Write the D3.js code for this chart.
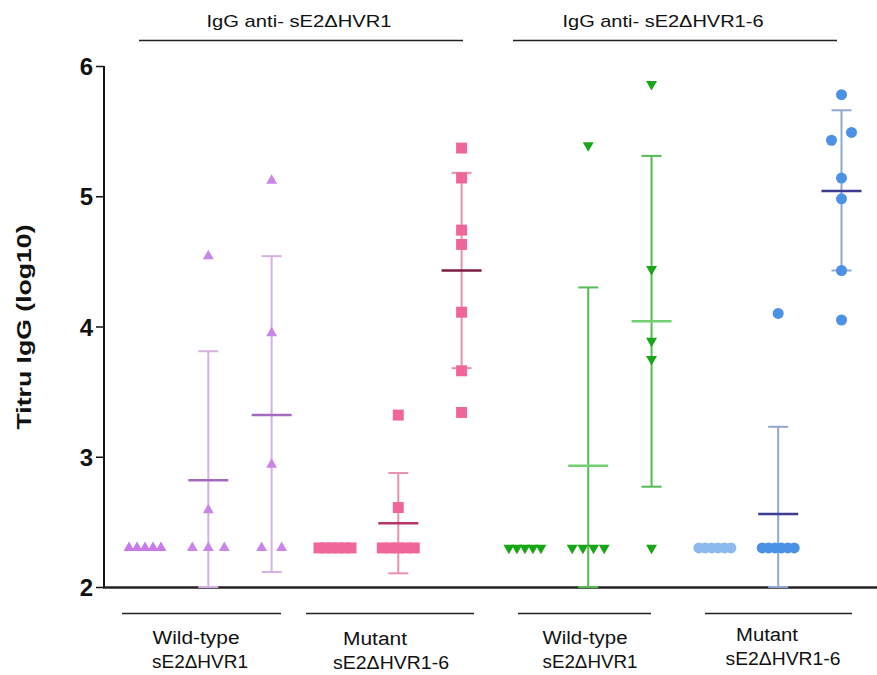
<!DOCTYPE html>
<html>
<head>
<meta charset="utf-8">
<script src="https://cdn.jsdelivr.net/npm/d3@7"></script>
<style>
  body { margin: 0; background: #fff; }
  text { font-family: "Liberation Sans", Arial, sans-serif; fill: #111; }
</style>
</head>
<body>
<svg id="chart" width="877" height="675"></svg>
<script>
// one entry per plotted column
const columns = ['wt1-a', 'wt1-b', 'wt1-c', 'mut1-a', 'mut1-b', 'mut1-c',
                 'wt16-a', 'wt16-b', 'wt16-c', 'mut16-a', 'mut16-b', 'mut16-c'];

// IgG anti-sE2dHVR1 titres
const antiHvr1Wt  = [[2.3, 2.3, 2.3, 2.3, 2.3], [2.3, 2.3, 2.3, 2.59, 4.54], [2.3, 2.3, 2.94, 3.95, 5.12]];
const antiHvr1Mut = [[2.3, 2.3, 2.3, 2.3, 2.3, 2.3], [2.3, 2.3, 2.3, 2.3, 2.3, 2.61, 3.32], [3.34, 3.66, 4.11, 4.63, 4.74, 5.14, 5.37]];
// IgG anti-sE2dHVR1-6 titres
const antiHvr16Wt  = [[2.3, 2.3, 2.3, 2.3, 2.3], [2.3, 2.3, 2.3, 2.3, 5.39], [2.3, 3.75, 3.89, 4.44, 5.86]];
const antiHvr16Mut = [[2.3, 2.3, 2.3, 2.3, 2.3, 2.3], [2.3, 2.3, 2.3, 2.3, 2.3, 2.3, 4.10], [4.05, 4.43, 4.98, 5.14, 5.43, 5.49, 5.78]];

// mean and SD ends
const means  = [null, 2.82, 3.32,  null, 2.49, 4.43,  null, 2.93, 4.04,  null, 2.56, 5.04];
const sdHigh = [null, 3.81, 4.54,  null, 2.875, 5.18, null, 4.30, 5.31,  null, 3.23, 5.66];
const sdLow  = [null, 1.83, 2.115, null, 2.105, 3.68, null, 1.56, 2.77,  null, 1.89, 4.43];

const yTicks = [2, 3, 4, 5, 6];
const headerLabels = ['IgG anti- sE2\u0394HVR1', 'IgG anti- sE2\u0394HVR1-6'];
const groupLabels = [['Wild-type', 'sE2\u0394HVR1'], ['Mutant', 'sE2\u0394HVR1-6'],
                     ['Wild-type', 'sE2\u0394HVR1'], ['Mutant', 'sE2\u0394HVR1-6']];

const allValues = [].concat(antiHvr1Wt, antiHvr1Mut, antiHvr16Wt, antiHvr16Mut);

// styles per group of three columns
const styles = [
  { symbol: d3.symbolTriangle, rotate: 0,   size: 52,  fill: ['#c77ae8', '#c985e8', '#c985e8'], bar: '#d4b0e4', mean: '#a46ac0' },
  { symbol: d3.symbolSquare,   rotate: 0,   size: 120, fill: ['#f0669a', '#f0669a', '#f0669a'], bar: '#ea90ae', mean: ['#b8336a', '#b8336a', '#7c1a44'] },
  { symbol: d3.symbolTriangle, rotate: 180, size: 52,  fill: ['#17a617', '#17a617', '#17a617'], bar: '#55bb55', mean: '#72d072' },
  { symbol: d3.symbolCircle,   rotate: 0,   size: 95,  fill: ['#8bb9f0', '#4b91e6', '#4b91e6'], bar: '#90a8d0', mean: '#3c3c90' }
];

const svg = d3.select('#chart');

const x = d3.scalePoint().domain(columns).range([145, 841.5]);
const y = d3.scaleLinear().domain([2, 6]).range([587, 66]);

// spread points that sit on top of each other
function spread(vals) {
  const sorted = vals.slice().sort((a, b) => a - b);
  const out = [];
  let i = 0;
  while (i < sorted.length) {
    let j = i;
    while (j + 1 < sorted.length && sorted[j + 1] - sorted[j] < 0.08) j++;
    const n = j - i + 1;
    const span = n === 1 ? 0 : (n === 2 ? 20 : 32);
    for (let k = 0; k < n; k++) {
      out.push({ v: sorted[i + k], dx: n === 1 ? 0 : -span / 2 + k * span / (n - 1) });
    }
    i = j + 1;
  }
  return out;
}

// y axis
const yAxis = svg.append('g')
  .attr('transform', 'translate(104,0)')
  .call(d3.axisLeft(y).tickValues(yTicks).tickSize(8).tickPadding(3).tickFormat(d3.format('d')));
yAxis.select('.domain').attr('stroke', '#111').attr('stroke-width', 2).attr('d', 'M0,66V587');
yAxis.selectAll('.tick line').attr('stroke', '#111').attr('stroke-width', 1.5);
yAxis.selectAll('.tick text')
  .style('font-size', '24px').style('font-weight', 'bold').attr('fill', '#111').attr('dy', '0.36em');

// x axis line
svg.append('line')
  .attr('x1', 103).attr('x2', 877).attr('y1', 587.5).attr('y2', 587.5)
  .attr('stroke', '#222').attr('stroke-width', 2.5);

svg.append('text')
  .attr('transform', 'translate(31,327) rotate(-90)')
  .attr('text-anchor', 'middle')
  .attr('textLength', 205).attr('lengthAdjust', 'spacingAndGlyphs')
  .style('font-size', '21px').style('font-weight', 'bold')
  .text('Titru IgG (log10)');

// columns
const plot = svg.append('g');
columns.forEach((c, i) => {
  const st = styles[Math.floor(i / 3)];
  const k = i % 3;
  const cx = x(c);
  const g = plot.append('g');

  if (means[i] !== null) {
    const hi = y(Math.max(2, sdHigh[i]));
    const lo = y(Math.max(2, sdLow[i]));
    g.append('line').attr('x1', cx).attr('x2', cx).attr('y1', hi).attr('y2', lo)
      .attr('stroke', st.bar).attr('stroke-width', 2);
    [hi, lo].forEach(yy => {
      g.append('line').attr('x1', cx - 10).attr('x2', cx + 10).attr('y1', yy).attr('y2', yy)
        .attr('stroke', st.bar).attr('stroke-width', 2);
    });
  }

  const sym = d3.symbol().type(st.symbol).size(st.size);
  g.selectAll('path.pt')
    .data(spread(allValues[i]))
    .join('path')
    .attr('class', 'pt')
    .attr('d', sym)
    .attr('transform', d => `translate(${cx + d.dx},${y(d.v)}) rotate(${st.rotate})`)
    .attr('fill', st.fill[k]);

  if (means[i] !== null) {
    g.append('line').attr('x1', cx - 20).attr('x2', cx + 20)
      .attr('y1', y(means[i])).attr('y2', y(means[i]))
      .attr('stroke', Array.isArray(st.mean) ? st.mean[k] : st.mean)
      .attr('stroke-width', 2.5);
  }
});

// top headers
const headers = [
  { x1: 139, x2: 463, cx: 299, w: 185 },
  { x1: 513, x2: 837, cx: 663, w: 201 }
];
headers.forEach((h, i) => {
  svg.append('line').attr('x1', h.x1).attr('x2', h.x2).attr('y1', 40.5).attr('y2', 40.5)
    .attr('stroke', '#222').attr('stroke-width', 1.5);
  svg.append('text').attr('x', h.cx).attr('y', 27).attr('text-anchor', 'middle')
    .attr('textLength', h.w).attr('lengthAdjust', 'spacingAndGlyphs')
    .style('font-size', '17px').text(headerLabels[i]);
});

// bottom group labels
const groups = [
  { x1: 122, x2: 281, l1: [196, 87], l2: [200, 96], y: 644 },
  { x1: 306, x2: 474, l1: [375, 64], l2: [391, 116], y: 645 },
  { x1: 518, x2: 651, l1: [585, 85], l2: [590, 95], y: 644 },
  { x1: 705, x2: 852, l1: [767, 62], l2: [783, 115], y: 641 }
];
groups.forEach((gp, i) => {
  svg.append('line').attr('x1', gp.x1).attr('x2', gp.x2).attr('y1', 613.5).attr('y2', 613.5)
    .attr('stroke', '#222').attr('stroke-width', 1.5);
  [gp.l1, gp.l2].forEach((l, j) => {
    svg.append('text').attr('x', l[0]).attr('y', gp.y + j * 24).attr('text-anchor', 'middle')
      .attr('textLength', l[1]).attr('lengthAdjust', 'spacingAndGlyphs')
      .style('font-size', '18px').text(groupLabels[i][j]);
  });
});
</script>
</body>
</html>
